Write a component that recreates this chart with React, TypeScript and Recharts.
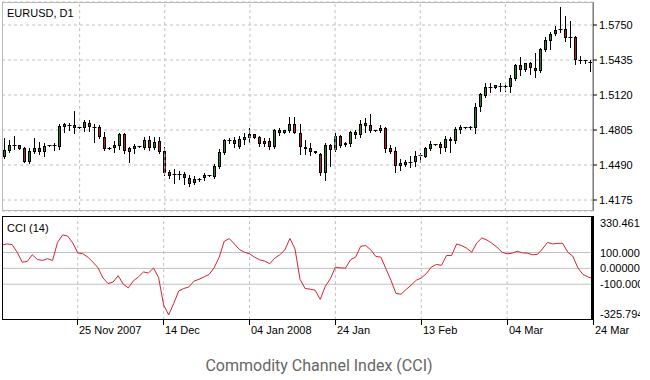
import React from 'react';
import { ComposedChart, Bar, Line, XAxis, YAxis, CartesianGrid, ReferenceLine } from 'recharts';

const openPrices = [
  1.4562, 1.4616, 1.4666, 1.4666, 1.4643, 1.4517, 1.4607, 1.4643, 1.4607, 1.4661,
  1.4661, 1.4652, 1.4828, 1.4841, 1.4850, 1.4828, 1.4819, 1.4871, 1.4832, 1.4835,
  1.4745, 1.4639, 1.4646, 1.4664, 1.4766, 1.4640, 1.4634, 1.4655, 1.4646, 1.4715,
  1.4646, 1.4706, 1.4616, 1.4427, 1.4405, 1.4409, 1.4412, 1.4373, 1.4328, 1.4355,
  1.4369, 1.4394, 1.4385, 1.4475, 1.4598, 1.4715, 1.4715, 1.4655, 1.4715, 1.4736,
  1.4766, 1.4745, 1.4706, 1.4706, 1.4655, 1.4805, 1.4781, 1.4796, 1.4859, 1.4775,
  1.4655, 1.4640, 1.4613, 1.4592, 1.4418, 1.4670, 1.4625, 1.4751, 1.4666, 1.4679,
  1.4787, 1.4763, 1.4841, 1.4850, 1.4802, 1.4793, 1.4823, 1.4646, 1.4616, 1.4481,
  1.4490, 1.4505, 1.4517, 1.4576, 1.4565, 1.4634, 1.4673, 1.4675, 1.4640, 1.4706,
  1.4706, 1.4805, 1.4828, 1.4823, 1.4819, 1.5009, 1.5114, 1.5186, 1.5186, 1.5198,
  1.5201, 1.5189, 1.5267, 1.5390, 1.5342, 1.5405, 1.5360, 1.5336, 1.5525, 1.5609,
  1.5666, 1.5710, 1.5711, 1.5636, 1.5645, 1.5435, 1.5431, 1.5420,
];

const highPrices = [
  1.4733, 1.4715, 1.4751, 1.4670, 1.4652, 1.4643, 1.4729, 1.4697, 1.4688, 1.4670,
  1.4688, 1.4855, 1.4868, 1.4868, 1.4972, 1.4832, 1.4891, 1.4891, 1.4855, 1.4850,
  1.4783, 1.4648, 1.4706, 1.4775, 1.4775, 1.4652, 1.4675, 1.4661, 1.4745, 1.4751,
  1.4745, 1.4745, 1.4648, 1.4442, 1.4454, 1.4439, 1.4430, 1.4396, 1.4391, 1.4373,
  1.4421, 1.4400, 1.4502, 1.4634, 1.4727, 1.4730, 1.4745, 1.4751, 1.4775, 1.4823,
  1.4769, 1.4754, 1.4733, 1.4733, 1.4817, 1.4819, 1.4808, 1.4919, 1.4925, 1.4859,
  1.4715, 1.4685, 1.4616, 1.4598, 1.4684, 1.4679, 1.4778, 1.4760, 1.4693, 1.4799,
  1.4805, 1.4895, 1.4910, 1.4947, 1.4805, 1.4846, 1.4835, 1.4670, 1.4652, 1.4540,
  1.4535, 1.4568, 1.4616, 1.4595, 1.4652, 1.4708, 1.4679, 1.4697, 1.4751, 1.4739,
  1.4835, 1.4850, 1.4832, 1.4837, 1.5048, 1.5135, 1.5225, 1.5225, 1.5210, 1.5225,
  1.5225, 1.5296, 1.5399, 1.5459, 1.5411, 1.5413, 1.5501, 1.5543, 1.5638, 1.5690,
  1.5741, 1.5908, 1.5831, 1.5786, 1.5651, 1.5471, 1.5435, 1.5435,
];

const lowPrices = [
  1.4553, 1.4607, 1.4634, 1.4630, 1.4513, 1.4504, 1.4594, 1.4589, 1.4571, 1.4657,
  1.4625, 1.4634, 1.4783, 1.4801, 1.4778, 1.4819, 1.4796, 1.4792, 1.4697, 1.4729,
  1.4625, 1.4630, 1.4610, 1.4634, 1.4598, 1.4520, 1.4595, 1.4652, 1.4637, 1.4625,
  1.4631, 1.4595, 1.4397, 1.4373, 1.4328, 1.4364, 1.4316, 1.4298, 1.4319, 1.4346,
  1.4355, 1.4391, 1.4376, 1.4460, 1.4585, 1.4691, 1.4655, 1.4640, 1.4682, 1.4697,
  1.4733, 1.4658, 1.4661, 1.4634, 1.4640, 1.4756, 1.4778, 1.4790, 1.4775, 1.4586,
  1.4585, 1.4580, 1.4594, 1.4400, 1.4355, 1.4481, 1.4616, 1.4652, 1.4661, 1.4661,
  1.4733, 1.4745, 1.4783, 1.4784, 1.4796, 1.4783, 1.4610, 1.4595, 1.4430, 1.4445,
  1.4481, 1.4472, 1.4481, 1.4520, 1.4559, 1.4625, 1.4670, 1.4601, 1.4616, 1.4610,
  1.4691, 1.4778, 1.4823, 1.4814, 1.4775, 1.4979, 1.5105, 1.5147, 1.5183, 1.5156,
  1.5152, 1.5143, 1.5255, 1.5300, 1.5336, 1.5305, 1.5279, 1.5327, 1.5516, 1.5531,
  1.5660, 1.5684, 1.5609, 1.5549, 1.5395, 1.5405, 1.5408, 1.5336,
];

const closePrices = [
  1.4625, 1.4670, 1.4670, 1.4634, 1.4517, 1.4616, 1.4643, 1.4607, 1.4661, 1.4666,
  1.4670, 1.4841, 1.4855, 1.4846, 1.4823, 1.4823, 1.4873, 1.4829, 1.4828, 1.4739,
  1.4631, 1.4643, 1.4670, 1.4766, 1.4613, 1.4610, 1.4657, 1.4658, 1.4718, 1.4640,
  1.4700, 1.4610, 1.4418, 1.4394, 1.4409, 1.4405, 1.4370, 1.4316, 1.4364, 1.4367,
  1.4397, 1.4397, 1.4484, 1.4604, 1.4715, 1.4712, 1.4676, 1.4721, 1.4745, 1.4766,
  1.4736, 1.4679, 1.4679, 1.4655, 1.4805, 1.4778, 1.4805, 1.4859, 1.4775, 1.4649,
  1.4631, 1.4610, 1.4598, 1.4418, 1.4670, 1.4625, 1.4751, 1.4661, 1.4688, 1.4790,
  1.4760, 1.4856, 1.4868, 1.4796, 1.4799, 1.4826, 1.4630, 1.4610, 1.4481, 1.4504,
  1.4520, 1.4520, 1.4571, 1.4580, 1.4640, 1.4679, 1.4676, 1.4643, 1.4721, 1.4727,
  1.4814, 1.4829, 1.4829, 1.4828, 1.5009, 1.5126, 1.5195, 1.5192, 1.5207, 1.5201,
  1.5198, 1.5276, 1.5390, 1.5342, 1.5405, 1.5359, 1.5339, 1.5531, 1.5615, 1.5669,
  1.5705, 1.5714, 1.5630, 1.5639, 1.5435, 1.5432, 1.5426, 1.5414,
];

const cciValues = [
  148, 154, 150, 102, 39, 44, 86, 56, 50, 61,
  50, 164, 211, 204, 161, 98, 92, 71, 39, 4,
  -61, -96, -86, -46, -100, -123, -79, -54, -23, -29,
  2, -58, -231, -294, -221, -142, -127, -117, -81, -69,
  -54, -38, 4, 71, 171, 188, 154, 119, 102, 92,
  71, 54, 46, 29, 64, 86, 117, 189, 123, -69,
  -127, -131, -138, -196, -113, -66, 8, 3, 2, 54,
  71, 139, 144, 117, 75, 71, -2, -75, -158, -163,
  -133, -106, -75, -61, -33, 8, 25, 19, 81, 81,
  154, 144, 127, 102, 161, 192, 179, 158, 133, 102,
  92, 96, 108, 98, 96, 86, 88, 123, 164, 154,
  158, 158, 102, 77, 4, -38, -54, -64,
];

const dateTicks = [15, 32, 49, 66, 83, 100, 117];
const dateLabels = ['25 Nov 2007', '14 Dec', '04 Jan 2008', '24 Jan', '13 Feb', '04 Mar', '24 Mar'];
const priceTicks = [1.4175, 1.449, 1.4805, 1.512, 1.5435, 1.575];
const priceDomain = [1.4076, 1.5957];
const cciTicks = [-325.794, -100, 0, 100, 330.461];
const cciTickLabels = ['-325.794', '-100.000', '0.00000', '100.000', '330.461'];
const cciLevels = [-100, 0, 100];

const data = closePrices.map((c, i) => ({
  i,
  open: openPrices[i],
  high: highPrices[i],
  low: lowPrices[i],
  close: c,
  range: [lowPrices[i], highPrices[i]],
  cci: cciValues[i],
}));

const FONT = '"Liberation Sans", Arial, sans-serif';
const GRID = '#c0c0c0';
const UP = '#2a7d2e';
const DOWN = '#ad252b';

const Candle = (p: any) => {
  const { x, y, width, height, payload } = p;
  if (x == null || y == null) return null;
  const { open, close, high, low } = payload;
  const cx = Math.floor(x + width / 2) + 0.5;
  const top = Math.min(y, y + height);
  const bot = Math.max(y, y + height);
  const py = (v: number) => (high === low ? top : top + ((high - v) / (high - low)) * (bot - top));
  const yo = py(open);
  const yc = py(close);
  const b1 = Math.round(Math.min(yo, yc));
  const b2 = Math.round(Math.max(yo, yc));
  const up = close >= open;
  return (
    <g>
      <line x1={cx} x2={cx} y1={Math.round(top)} y2={Math.round(bot) + 1} stroke="#000" strokeWidth={1} />
      {b2 - b1 < 2 ? (
        <line x1={cx - 2} x2={cx + 2} y1={b1 + 0.5} y2={b1 + 0.5} stroke="#000" strokeWidth={1} />
      ) : (
        <rect x={cx - 1} y={b1 + 0.5} width={2} height={b2 - b1 - 1} fill={up ? UP : DOWN} stroke="#000" strokeWidth={1} />
      )}
    </g>
  );
};

const PriceTick = (p: any) => {
  const { x, y, payload } = p;
  return (
    <g>
      <line x1={x} x2={x + 4} y1={y} y2={y} stroke="#000" />
      <text x={x + 6} y={y} dy={4} fontSize={11} fontFamily={FONT} fill="#000">
        {Number(payload.value).toFixed(4)}
      </text>
    </g>
  );
};

const CciTick = (p: any) => {
  const { x, y, payload } = p;
  const idx = cciTicks.indexOf(payload.value);
  const label = idx >= 0 ? cciTickLabels[idx] : String(payload.value);
  let off = 4;
  if (idx === cciTicks.length - 1) off = 11;
  if (idx === 0) off = -2;
  return (
    <text x={x + 7} y={y} dy={off} fontSize={11} fontFamily={FONT} fill="#000">
      {label}
    </text>
  );
};

const DateTick = (p: any) => {
  const { x, y, payload } = p;
  const idx = dateTicks.indexOf(payload.value);
  const label = idx >= 0 ? dateLabels[idx] : '';
  const xx = Math.floor(x) + 0.5;
  return (
    <g>
      <line x1={xx} x2={xx} y1={y} y2={y + 5} stroke="#000" />
      <text x={xx + 1.5} y={y + 14} fontSize={11} fontFamily={FONT} fill="#000" textAnchor="start">
        {label}
      </text>
    </g>
  );
};

export default function App() {
  return (
    <div style={{ position: 'absolute', left: 0, top: 0, width: 650, height: 380, background: '#fff', overflow: 'hidden' }}>
      <div style={{ position: 'absolute', left: 0, top: 0 }}>
        <ComposedChart width={640} height={213} data={data} margin={{ top: 2, right: 0, bottom: 2, left: 2 }}>
          <CartesianGrid vertical={false} stroke={GRID} strokeDasharray="3 3" />
          <XAxis dataKey="i" type="category" hide />
          <YAxis
            orientation="right"
            width={47}
            domain={priceDomain}
            ticks={priceTicks}
            allowDataOverflow
            axisLine={{ stroke: '#000' }}
            tickLine={false}
            tickSize={0}
            tickMargin={0}
            tick={<PriceTick />}
            interval={0}
          />
          {dateTicks.slice(0, -1).map((t) => (
            <ReferenceLine key={t} x={t} stroke={GRID} strokeDasharray="3 3" />
          ))}
          <Bar dataKey="range" isAnimationActive={false} shape={(props: any) => <Candle {...props} />} />
        </ComposedChart>
      </div>
      <div style={{ position: 'absolute', left: 0, top: 216 }}>
        <ComposedChart width={640} height={130} data={data} margin={{ top: 0, right: 0, bottom: 0, left: 2 }}>
          <XAxis
            dataKey="i"
            type="category"
            ticks={dateTicks}
            interval={0}
            height={26}
            axisLine={false}
            tickLine={false}
            tickSize={0}
            tickMargin={0}
            tick={<DateTick />}
          />
          <YAxis
            orientation="right"
            width={47}
            domain={[-325.794, 330.461]}
            ticks={cciTicks}
            allowDataOverflow
            axisLine={{ stroke: '#000', strokeWidth: 2 }}
            tickLine={false}
            tickSize={0}
            tickMargin={0}
            tick={<CciTick />}
            interval={0}
          />
          {dateTicks.slice(0, -1).map((t) => (
            <ReferenceLine key={t} x={t} stroke={GRID} strokeDasharray="3 3" />
          ))}
          {cciLevels.map((v) => (
            <ReferenceLine key={v} y={v} stroke={GRID} />
          ))}
          <Line dataKey="cci" type="linear" dot={false} stroke="#d42430" strokeWidth={1} isAnimationActive={false} />
        </ComposedChart>
      </div>
      <div style={{ position: 'absolute', left: 2, top: 2, width: 591, height: 209, boxSizing: 'border-box', border: '1px solid #b8b8b8', pointerEvents: 'none' }} />
      <div style={{ position: 'absolute', left: 2, top: 216, width: 591, height: 104, boxSizing: 'border-box', border: '1px solid #000', borderRightWidth: 2, pointerEvents: 'none' }} />
      <div style={{ position: 'absolute', left: 7, top: 7, fontFamily: FONT, fontSize: 11, lineHeight: '12px', color: '#000' }}>EURUSD, D1</div>
      <div style={{ position: 'absolute', left: 7, top: 222, fontFamily: FONT, fontSize: 11, lineHeight: '12px', color: '#000' }}>CCI (14)</div>
      <div style={{ position: 'absolute', left: 0, top: 356, width: 638, textAlign: 'center', fontFamily: 'Roboto, sans-serif', fontSize: 16, lineHeight: '20px', color: '#666' }}>
        Commodity Channel Index (CCI)
      </div>
    </div>
  );
}
